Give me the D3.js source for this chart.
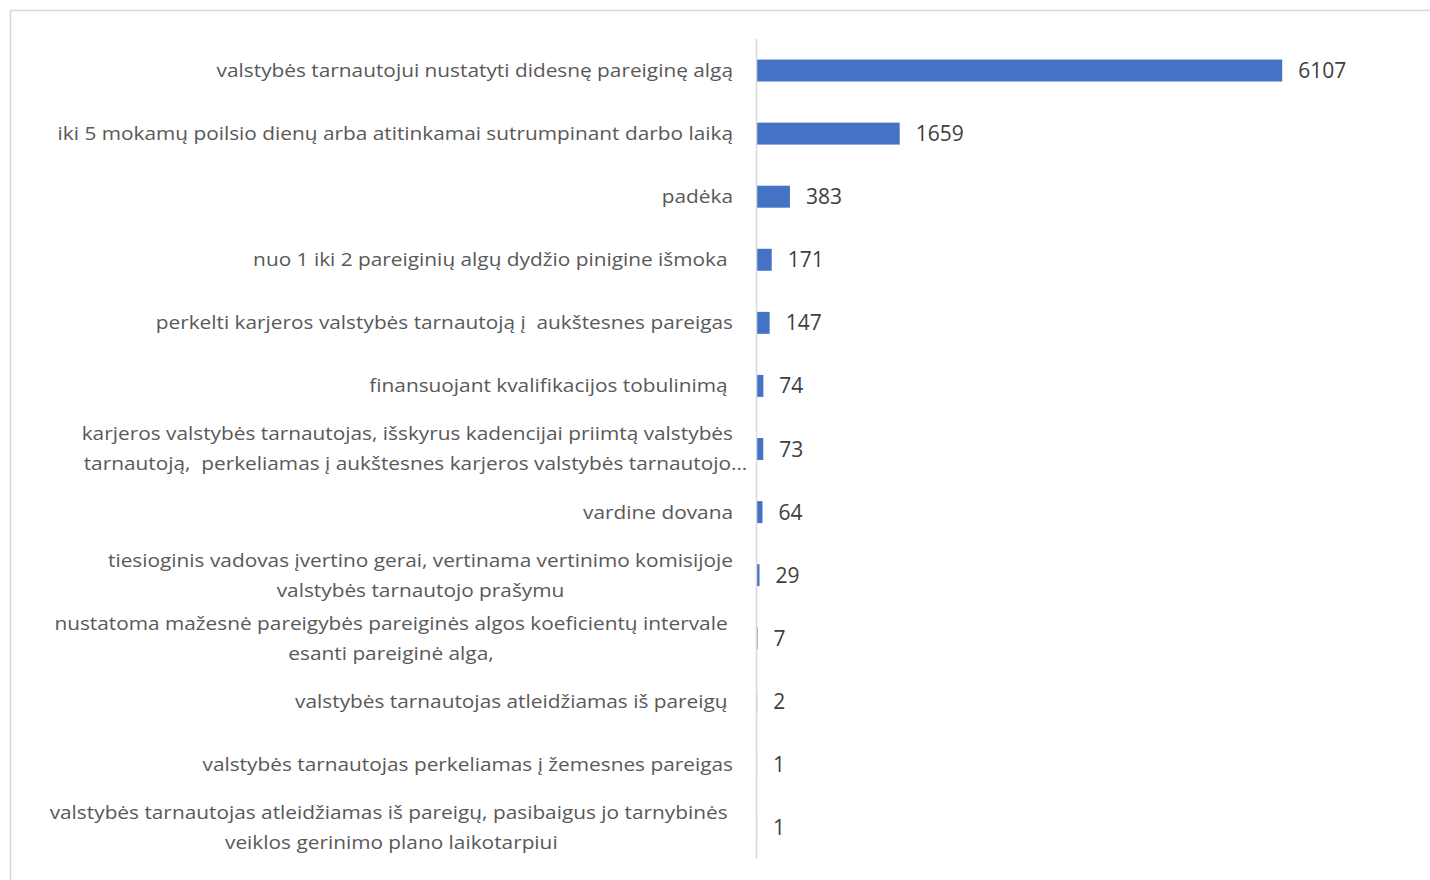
<!DOCTYPE html>
<html>
<head>
<meta charset="utf-8">
<script src="https://cdn.jsdelivr.net/npm/d3@7"></script>
<style>
  body { margin: 0; background: #fff; }
  text { white-space: pre; }
</style>
</head>
<body>
<div id="chart"></div>
<script>
"use strict";
//category labels, one entry per row, already split into lines as in the picture
var categories = [
  ["valstybės tarnautojui nustatyti didesnę pareiginę algą"],
  ["iki 5 mokamų poilsio dienų arba atitinkamai sutrumpinant darbo laiką"],
  ["padėka"],
  ["nuo 1 iki 2 pareiginių algų dydžio pinigine išmoka "],
  ["perkelti karjeros valstybės tarnautoją į  aukštesnes pareigas"],
  ["finansuojant kvalifikacijos tobulinimą "],
  ["karjeros valstybės tarnautojas, išskyrus kadencijai priimtą valstybės",
   "tarnautoją,  perkeliamas į aukštesnes karjeros valstybės tarnautojo…"],
  ["vardine dovana"],
  ["tiesioginis vadovas įvertino gerai, vertinama vertinimo komisijoje",
   "valstybės tarnautojo prašymu"],
  ["nustatoma mažesnė pareigybės pareiginės algos koeficientų intervale ",
   "esanti pareiginė alga, "],
  ["valstybės tarnautojas atleidžiamas iš pareigų "],
  ["valstybės tarnautojas perkeliamas į žemesnes pareigas"],
  ["valstybės tarnautojas atleidžiamas iš pareigų, pasibaigus jo tarnybinės ",
   "veiklos gerinimo plano laikotarpiui"]
];

var values = [6107, 1659, 383, 171, 147, 74, 73, 64, 29, 7, 2, 1, 1];

var xMax = 7000;

var w = 1430,
  h = 880;

var svg = d3
  .select("#chart")
  .append("svg")
  .attr("width", w)
  .attr("height", h);

//chart frame, only top and left edges visible in the crop
svg
  .append("path")
  .attr("d", "M10.5,880V10.5H1430")
  .attr("fill", "none")
  .attr("stroke", "#d9d9d9")
  .attr("stroke-width", 1.5);

var x = d3.scaleLinear().domain([0, xMax]).range([757, 1359]);

var y = d3
  .scaleBand()
  .domain(d3.range(values.length))
  .range([39, 859])
  .paddingInner(0.652)
  .paddingOuter(0.326);

//bars
svg
  .append("g")
  .selectAll("rect")
  .data(values)
  .join("rect")
  .attr("x", x(0))
  .attr("y", function(d, i) {
    return y(i);
  })
  .attr("width", function(d) {
    return x(d) - x(0);
  })
  .attr("height", y.bandwidth())
  .attr("fill", "#4472c4");

//vertical axis line
svg
  .append("line")
  .attr("x1", x(0) - 0.5)
  .attr("x2", x(0) - 0.5)
  .attr("y1", 39)
  .attr("y2", 859)
  .attr("stroke", "#d9d9d9")
  .attr("stroke-width", 1.5);

function rowCenter(i) {
  return y(i) + y.bandwidth() / 2;
}

//value labels
svg
  .append("g")
  .selectAll("text")
  .data(values)
  .join("text")
  .attr("x", function(d) {
    return x(d) + 16;
  })
  .attr("y", function(d, i) {
    return rowCenter(i);
  })
  .attr("dy", "0.36em")
  .attr("font-family", "'Open Sans', sans-serif")
  .attr("font-size", 21)
  .attr("fill", "#404040")
  .text(function(d) {
    return d;
  });

//category labels
var labelRight = 733,
  lineGap = 30,
  labelFont = 18.5;

var lg = svg.append("g").attr("font-family", "'Open Sans', sans-serif");

//squeeze factor so Open Sans matches the narrow original face
var probe = lg
  .append("text")
  .attr("font-size", labelFont)
  .text(categories[0][0]);
var squeeze = 520 / probe.node().getComputedTextLength();
probe.remove();

categories.forEach(function(lines, i) {
  var cy = rowCenter(i);
  var n = lines.length;
  var widths = lines.map(function(s) {
    var t = lg.append("text").attr("font-size", labelFont).text(s);
    var wd = t.node().getComputedTextLength() * squeeze * 0.993;
    t.remove();
    return wd;
  });
  var center = labelRight - widths[0] / 2;
  lines.forEach(function(s, j) {
    var ly = cy + (j - (n - 1) / 2) * lineGap;
    var t = lg
      .append("text")
      .attr("font-size", labelFont)
      .attr("fill", "#595959")
      .attr("y", ly)
      .attr("dy", "0.35em")
      .attr("textLength", widths[j])
      .attr("lengthAdjust", "spacingAndGlyphs")
      .text(s);
    if (n == 1) {
      t.attr("x", labelRight - widths[j]);
    } else if (s.slice(-1) == "…") {
      //truncated line keeps the left edge of the line above and overflows right
      t.attr("x", center - widths[0] / 2 + 2);
    } else {
      t.attr("x", center - widths[j] / 2);
    }
  });
});
</script>
</body>
</html>
